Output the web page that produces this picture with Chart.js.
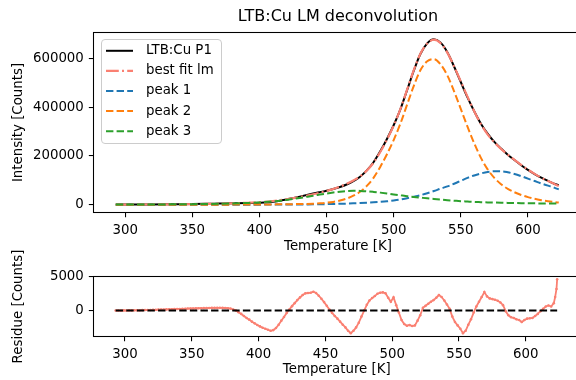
<!DOCTYPE html>
<html><head><meta charset="utf-8">
<script src="https://cdn.jsdelivr.net/npm/chart.js@4.4.0/dist/chart.umd.min.js"></script>
<style>
html,body{margin:0;padding:0;background:#fff;}
#wrap{position:relative;width:576px;height:380px;overflow:hidden;background:#fff;}
#c1{position:absolute;left:0;top:0;width:584px;height:260px;}
#c2{position:absolute;left:0;top:220px;width:584px;height:160px;}
</style></head><body>
<div id="wrap"><canvas id="c1" width="584" height="260"></canvas><canvas id="c2" width="584" height="160"></canvas></div>
<script>
// ---- data ----
const temperature = [293,300,310,320,330,340,350,360,370,380,390,400,410,420,430,440,445,450,455,460,465,470,475,480,485,490,495,500,505,510,515,520,525,530,535,540,545,550,555,560,565,570,575,580,585,590,595,600,605,610,615,620,623];
const dataP1 = [500,600,850,1100,1450,1950,2530,3450,4530,5610,6500,8150,12100,21250,33000,45500,51500,57400,64200,72700,82900,96400,114600,140500,174100,218700,269400,325700,391000,469500,549400,618800,661600,677900,664400,625300,566700,503000,439800,383200,332100,291100,257300,230200,205200,183000,161800,142600,125700,110600,97500,85100,81000];
const bestFit = [500,600,800,1000,1300,1750,2280,3100,4130,5460,7700,10550,15100,21950,31200,42700,49200,56400,64500,74200,85500,99500,116100,140000,172100,216100,267000,324000,391500,471500,551500,620000,661000,676500,662000,623500,567500,505500,443000,383500,330500,288500,255700,229000,205400,183900,163400,144000,126600,110700,96900,84100,76400];
const peak1 = [0,0,0,0,0,50,80,100,130,160,200,250,400,650,1000,1500,1900,2400,3000,3700,4500,5500,6600,8000,9600,11600,14000,17000,21000,26500,32500,39000,47000,56000,66000,75000,86000,98000,110000,120000,128000,134000,137000,137000,133000,126000,117000,107000,97000,87000,78000,69000,63000];
const peak2 = [0,0,0,0,0,0,0,100,200,300,500,800,1200,1800,2700,4200,5800,8000,11500,17000,25000,37000,53000,77000,110000,155000,207000,265000,332000,410000,487000,552000,588000,597000,575000,530000,465000,393000,320000,252000,192000,145000,110000,84000,65000,51000,40000,31000,24000,18500,14000,10500,9000];
const peak3 = [500,600,800,1000,1300,1700,2200,2900,3800,5000,7000,9500,13500,19500,27500,37000,41500,46000,50000,53500,56000,57000,56500,55000,52500,49500,46000,42000,38500,35000,32000,29000,26000,23500,21000,18500,16500,14500,13000,11500,10500,9500,8700,8000,7400,6900,6400,6000,5600,5200,4900,4600,4400];

const resTemperature = [
 293,295,297,299,301,303,305,307,309,311,
 313,315,317,319,321,323,325,327,329,331,
 333,335,337,339,341,343,345,347,349,351,
 353,355,357,359,361,363,365,367,369,371,
 373,375,377,379,381,383,385,387,389,391,
 393,395,397,399,401,403,405,407,409,411,
 413,415,417,419,421,423,425,427,429,431,
 433,435,437,439,441,443,445,447,449,451,
 453,455,457,459,461,463,465,467,469,471,
 473,475,477,479,481,483,485,487,489,491,
 493,495,497,499,501,503,505,507,509,511,
 513,515,517,519,521,523,525,527,529,531,
 533,535,537,539,541,543,545,547,549,551,
 553,555,557,559,561,563,565,567,569,571,
 573,575,577,579,581,583,585,587,589,591,
 593,595,597,599,601,603,605,607,609,611,
 613,615,617,619,621,622,623,623.5];
const residue = [
 0,10,0,20,10,30,20,40,50,40,
 60,70,80,90,100,110,130,140,150,170,
 180,200,210,230,240,260,270,290,300,310,
 320,340,350,360,370,380,390,390,400,400,
 390,380,350,280,150,0,-250,-500,-800,-1100,
 -1350,-1650,-1900,-2150,-2350,-2550,-2700,-2850,-3000,-2900,
 -2600,-2100,-1500,-950,-350,150,650,1100,1550,1950,
 2300,2550,2600,2650,2780,2600,2200,1750,1250,700,
 150,-350,-800,-1200,-1650,-2100,-2500,-3000,-3350,-3000,
 -2500,-1800,-900,0,850,1500,1850,2150,2500,2650,
 2700,2550,1900,1300,1950,800,-300,-1400,-2000,-2250,
 -2150,-2300,-2200,-1500,-700,400,700,1000,1300,1550,
 1900,2300,2000,1500,900,250,-900,-1700,-2200,-2700,
 -3350,-3000,-2100,-1300,-300,600,1300,2000,2750,2100,
 1800,1700,1600,1450,1200,800,-100,-700,-1000,-1100,
 -1300,-1400,-1700,-1400,-1200,-1150,-1100,-800,-500,-100,
 250,600,750,600,1100,2000,3200,4650];
const zeroTemperature = [293, 623.5];
const zeroLine = [0, 0];

const xTicks = [300, 350, 400, 450, 500, 550, 600];
const yTicksTop = [0, 200000, 400000, 600000];
const yTicksBottom = [0, 5000];

// ---- styling / layout ----
Chart.defaults.font.family = "'DejaVu Sans', sans-serif";
Chart.defaults.font.size = 13.33;
Chart.defaults.color = '#000';

const X_MIN = 276.4, X_MAX = 640.6;
const mk = (xs, ys) => xs.map((x, i) => ({x: x, y: ys[i]}));

const frame = {
  id: 'frame',
  afterDatasetsDraw(chart) {
    const {ctx, chartArea: a} = chart;
    ctx.save();
    ctx.strokeStyle = '#000';
    ctx.lineWidth = 1.07;
    ctx.strokeRect(a.left, a.top, a.right - a.left, a.bottom - a.top);
    ctx.restore();
  }
};

const mplLegend = {
  id: 'mplLegend',
  afterDraw(chart) {
    const ctx = chart.ctx;
    ctx.save();
    ctx.beginPath();
    if (ctx.roundRect) ctx.roundRect(101.5, 39.5, 120, 104, 3.5); else ctx.rect(101.5, 39.5, 120, 104);
    ctx.fillStyle = 'rgba(255,255,255,0.8)';
    ctx.fill();
    ctx.strokeStyle = '#cccccc';
    ctx.lineWidth = 1;
    ctx.stroke();
    chart.data.datasets.forEach((ds, i) => {
      const y = 50.8 + i * 20.1;
      ctx.beginPath();
      ctx.setLineDash(ds.borderDash || []);
      ctx.strokeStyle = ds.borderColor;
      ctx.lineWidth = ds.borderWidth;
      ctx.moveTo(106, y); ctx.lineTo(133, y);
      ctx.stroke();
      ctx.setLineDash([]);
      ctx.fillStyle = '#000';
      ctx.font = "13.33px 'DejaVu Sans', sans-serif";
      ctx.textBaseline = 'middle';
      ctx.textAlign = 'left';
      ctx.fillText(ds.label, 146, y);
    });
    ctx.restore();
  }
};

function xScale(height, titlePadBottom) {
  return {
    type: 'linear', min: X_MIN, max: X_MAX,
    afterBuildTicks: s => { s.ticks = xTicks.map(v => ({value: v})); },
    afterFit: s => { s.height = height; },
    grid: {display: true, drawOnChartArea: false, drawTicks: true, tickLength: 4.67, color: '#000', lineWidth: 1.07},
    border: {display: false},
    ticks: {padding: 5.5, maxRotation: 0, autoSkip: false, callback: v => String(v)},
    title: {display: true, text: 'Temperature [K]', padding: {top: 0, bottom: titlePadBottom}}
  };
}
function yScale(min, max, tickVals, label) {
  return {
    type: 'linear', min: min, max: max,
    afterBuildTicks: s => { s.ticks = tickVals.map(v => ({value: v})); },
    afterFit: s => { s.width = 93.5; },
    grid: {display: true, drawOnChartArea: false, drawTicks: true, tickLength: 4.67, color: '#000', lineWidth: 1.07},
    border: {display: false},
    ticks: {padding: 5, autoSkip: false, callback: v => String(v)},
    title: {display: true, text: label, padding: {top: 10.3, bottom: 0}}
  };
}
const lineDs = (label, xs, ys, color, width, dash, order) => ({
  label: label, data: mk(xs, ys), borderColor: color, backgroundColor: color,
  borderWidth: width, borderDash: dash, pointRadius: 0, order: order,
  cubicInterpolationMode: 'monotone', fill: false
});

new Chart(document.getElementById('c1'), {
  type: 'line',
  data: {
    datasets: [
      lineDs('LTB:Cu P1', temperature, dataP1, '#000000', 2, [], 5),
      lineDs('best fit lm', temperature, bestFit, '#fa8072', 2.2, [12.8, 3.2, 2, 3.2], 4),
      lineDs('peak 1', temperature, peak1, '#1f77b4', 2, [7.4, 3.2], 3),
      lineDs('peak 2', temperature, peak2, '#ff7f0e', 2, [7.4, 3.2], 2),
      lineDs('peak 3', temperature, peak3, '#2ca02c', 2, [7.4, 3.2], 1)
    ]
  },
  options: {
    responsive: false, animation: false, devicePixelRatio: 1,
    layout: {padding: {left: 0, right: 1.6, top: 0, bottom: 0}},
    scales: {
      x: xScale(47.5, 5),
      y: yScale(-32000, 706000, yTicksTop, 'Intensity [Counts]')
    },
    plugins: {
      legend: {display: false}, tooltip: {enabled: false},
      title: {display: true, fullSize: false, text: 'LTB:Cu LM deconvolution',
              font: {size: 16, weight: 'normal'}, color: '#000', padding: {top: 7.4, bottom: 5.9}}
    }
  },
  plugins: [frame, mplLegend]
});

new Chart(document.getElementById('c2'), {
  type: 'line',
  data: {
    datasets: [
      {label: 'residue', data: mk(resTemperature, residue), borderColor: '#fa8072', backgroundColor: '#fa8072',
       borderWidth: 1.8, pointRadius: 1.3, pointBorderWidth: 0, pointBackgroundColor: '#fa8072',
       showLine: true, tension: 0, order: 2, fill: false},
      {label: 'zero', data: mk(zeroTemperature, zeroLine), borderColor: '#000000', borderWidth: 2,
       borderDash: [7.4, 3.2], pointRadius: 0, order: 1, fill: false}
    ]
  },
  options: {
    responsive: false, animation: false, devicePixelRatio: 1,
    layout: {padding: {left: 0, right: 1.6, top: 56.5, bottom: 0}},
    scales: {
      x: xScale(43.5, 2.5),
      y: yScale(-3850, 5050, yTicksBottom, 'Residue [Counts]')
    },
    plugins: {legend: {display: false}, tooltip: {enabled: false}}
  },
  plugins: [frame]
});
</script>
</body></html>
